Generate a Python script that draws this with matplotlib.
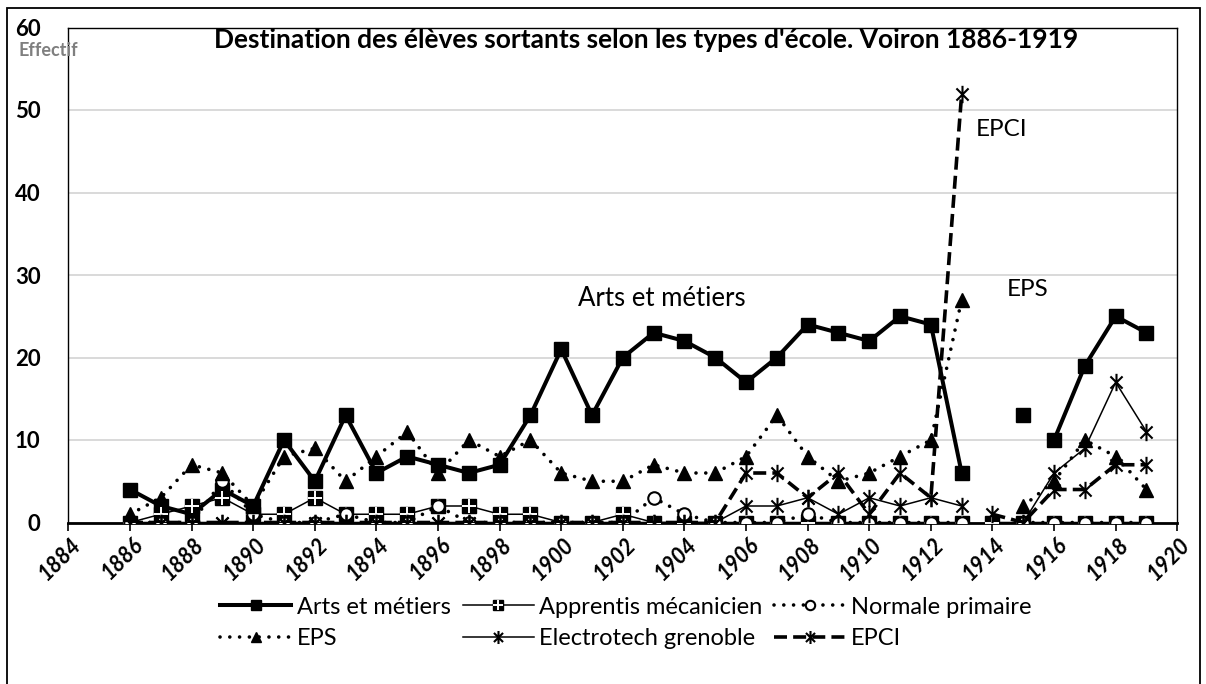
import numpy as np
import matplotlib
matplotlib.use("Agg")
import matplotlib.pyplot as plt
from matplotlib.path import Path
from matplotlib.patches import Rectangle
from matplotlib.legend_handler import HandlerTuple
from matplotlib.transforms import ScaledTranslation

plt.rcParams['font.family'] = ['Lato', 'DejaVu Sans']

nan = np.nan
years = list(range(1886, 1920))

arts = [4, 2, 1, 4, 2, 10, 5, 13, 6, 8, 7, 6, 7, 13, 21, 13, 20, 23, 22, 20,
        17, 20, 24, 23, 22, 25, 24, 6, nan, 13, 10, 19, 25, 23]
apprentis = [0, 1, 2, 3, 1, 1, 3, 1, 1, 1, 2, 2, 1, 1, 0, 0, 1, 0, 0, 0,
             0, 0, 0, 0, 0, 0, 0, 0, 0, 0, 0, 0, 0, 0]
normale = [0, 0, 0, 5, 1, 0, 0, 1, 0, 0, 2, 0, 0, 0, 0, 0, 0, 3, 1, 0,
           0, 0, 1, 0, 0, 0, 0, 0, nan, 0, 0, 0, 0, 0]
eps = [1, 3, 7, 6, 2, 8, 9, 5, 8, 11, 6, 10, 8, 10, 6, 5, 5, 7, 6, 6,
       8, 13, 8, 5, 6, 8, 10, 27, nan, 2, 5, 10, 8, 4]
electrotech = [0, 0, 0, 0, 0, 0, 0, 0, 0, 0, 0, 0, 0, 0, 0, 0, 0, 0, 0, 0,
               2, 2, 3, 1, 3, 2, 3, 2, nan, 0, 6, 9, 17, 11]
epci = [0, 0, 0, 0, 0, 0, 0, 0, 0, 0, 0, 0, 0, 0, 0, 0, 0, 0, 0, 0,
        6, 6, 3, 6, 1, 6, 3, 52, 1, 0, 4, 4, 7, 7]

labels = ["Arts et métiers", "Apprentis mécanicien", "Normale primaire",
          "EPS", "Electrotech grenoble", "EPCI"]
x_ticks = list(range(1884, 1921, 2))
y_ticks = list(range(0, 61, 10))
title = "Destination des élèves sortants selon les types d'école. Voiron 1886-1919"

# years after which a series line is interrupted
breaks_common = [1913]
breaks_arts = [1913, 1915]


def with_breaks(xs, ys, breaks):
    bx, by = [], []
    for x, y in zip(xs, ys):
        bx.append(x)
        by.append(y)
        if x in breaks:
            bx.append(nan)
            by.append(nan)
    return bx, by


# six-armed asterisk marker
star = Path([(-0.7, -0.7), (0.7, 0.7), (-0.7, 0.7), (0.7, -0.7), (0, -1), (0, 1)],
            [Path.MOVETO, Path.LINETO] * 3)

W, H = 1206, 684
fig = plt.figure(figsize=(W / 100, H / 100), dpi=100)
x0, x1, y0, y1 = 68.4, 1177.3, 522.5, 27.5
ax = fig.add_axes([x0 / W, 1 - y0 / H, (x1 - x0) / W, (y0 - y1) / H])
ax.set_xlim(1884, 1920)
ax.set_ylim(0, 60)

dot = (0, (0.01, 2.7))
dash = (0, (3.6, 1.7))

h_arts, = ax.plot(*with_breaks(years, arts, breaks_arts), color='black', lw=2.9,
                  marker='s', ms=10, zorder=5)
h_app, = ax.plot(*with_breaks(years, apprentis, breaks_common), color='black', lw=1.1,
                 marker='s', ms=9.5, zorder=5)
h_app2, = ax.plot(years, apprentis, ls='none', marker='+', ms=9.5, mew=1.4,
                  color='white', zorder=5.1)
h_norm, = ax.plot(*with_breaks(years, normale, breaks_common), color='black', lw=2.6,
                  ls=dot, dash_capstyle='round', marker='o', ms=9, mfc='white',
                  mec='black', mew=1.5, zorder=5.2)
h_eps, = ax.plot(*with_breaks(years, eps, breaks_common), color='black', lw=2.6,
                 ls=dot, dash_capstyle='round', marker='^', ms=10, zorder=5.3)
h_el, = ax.plot(*with_breaks(years, electrotech, breaks_common), color='black', lw=1.1,
                marker=star, ms=12.5, mew=1.5, zorder=5.4)
h_epci, = ax.plot(*with_breaks(years, epci, breaks_common), color='black', lw=2.6,
                  ls=dash, marker=star, ms=12.5, mew=1.5, zorder=5.5)

# axes styling
ax.set_yticks(y_ticks)
ax.set_xticks(x_ticks)
ax.grid(axis='y', color='#d9d9d9', lw=1.4)
ax.set_axisbelow(True)
for side in ['left', 'top', 'right']:
    ax.spines[side].set_linewidth(1.0)
ax.spines['bottom'].set_linewidth(2.0)
ax.tick_params(axis='y', length=0, pad=20, labelsize=16)
ax.tick_params(axis='x', length=6, width=1.2, direction='out', pad=2, labelsize=15.5)
for t in ax.get_yticklabels():
    t.set_fontweight('bold')
for t in ax.get_xticklabels():
    t.set_fontweight('bold')
    t.set_fontstyle('italic')
    t.set_rotation(45)
    t.set_ha('right')
    t.set_va('top')
    t.set_transform(t.get_transform() + ScaledTranslation(0.17, 0, fig.dpi_scale_trans))

# series labels
ax.text(1903.28, 27.2, "Arts et métiers", ha='center', va='center', fontsize=18.5)
ax.text(1914.45, 28.3, "EPS", ha='left', va='center', fontsize=17.5)
ax.text(1913.45, 47.6, "EPCI", ha='left', va='center', fontsize=17.5)

# titles
fig.text(646 / W, 1 - 40 / H, title, ha='center', va='center', fontsize=19,
         fontweight='bold')
fig.text(18 / W, 1 - 50 / H, "Effectif", ha='left', va='center', fontsize=13,
         fontweight='bold', color='#7f7f7f')

# outer frame
fig.patches.append(Rectangle((7 / W, -0.02), (1200 - 7) / W, (H - 8) / H + 0.02,
                             transform=fig.transFigure, fill=False, lw=1.3,
                             ec='black'))

handles = [h_arts, h_eps, (h_app, h_app2), h_el, h_norm, h_epci]
leg_labels = [labels[0], labels[3], labels[1], labels[4], labels[2], labels[5]]
fig.legend(handles, leg_labels, ncol=3, loc='center',
           bbox_to_anchor=(626 / W, 1 - 623 / H), frameon=False, fontsize=17,
           handlelength=3.0, handletextpad=0.25, columnspacing=0.5,
           labelspacing=0.45, markerscale=0.75,
           handler_map={tuple: HandlerTuple(ndivide=1)})

fig.savefig("out.png", dpi=100)
